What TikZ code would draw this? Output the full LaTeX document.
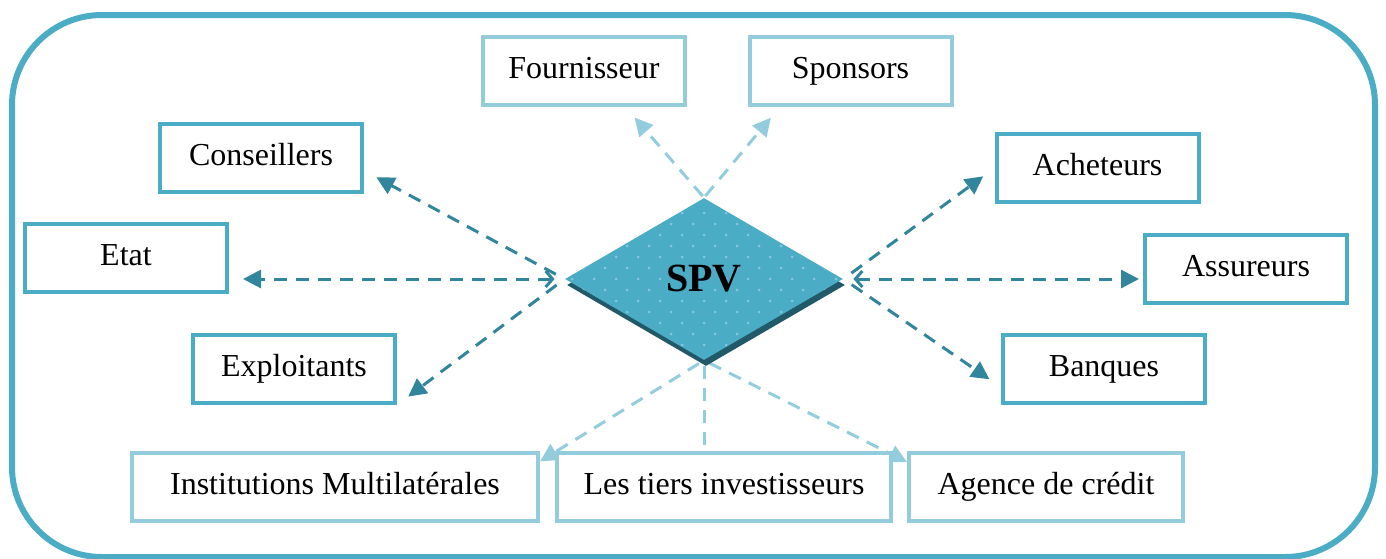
\documentclass[tikz,border=0pt]{standalone}
\usepackage{fontspec}
\setmainfont{Liberation Serif}
\usetikzlibrary{arrows.meta,shapes.geometric,shadows,backgrounds}
\definecolor{boxblue}{HTML}{4BACC6}
\definecolor{boxlight}{HTML}{93CDDD}
\definecolor{arrowdark}{HTML}{31859C}
\definecolor{spvshadow}{HTML}{215968}
\definecolor{spvdot}{HTML}{86C8DA}

\begin{document}
\begin{tikzpicture}[x=0.5pt,y=-0.5pt,
  acteur/.style={draw=boxblue,line width=2pt,fill=white,minimum width=101pt,minimum height=34pt,inner sep=0pt,text height=11pt,text depth=3.5pt,font=\fontsize{16}{19}\selectfont},
  acteurclair/.style={acteur,draw=boxlight},
  lien/.style={draw=arrowdark,line width=1.5pt,dash pattern=on 6.5pt off 4.5pt,-{Triangle[length=9pt,width=9pt]},shorten <=5pt,shorten >=7pt},
  lienclair/.style={lien,draw=boxlight,shorten <=1pt},
  lienduo/.style={lien,{Straight Barb[length=3.5pt,width=8pt]}-{Triangle[length=9pt,width=9pt]}}]
\useasboundingbox (0,0) rectangle (1386,558);
%cadre
\draw[boxblue,line width=3pt,rounded corners=45pt] (12,15) rectangle (1375,557);
%SPV
\node[diamond,aspect=1.7,minimum width=139pt,minimum height=81pt,inner sep=0pt,
  fill=boxblue,drop shadow={shadow xshift=1pt,shadow yshift=-3pt,fill=spvshadow,opacity=1},
  path picture={\foreach \r in {-8,...,8} \foreach \c in {-7,...,7}
    \fill[spvdot] ([shift={({\c*22+mod(\r,2)*11},{\r*11})}]path picture bounding box.center) circle (1.5);},
  font=\fontsize{20}{24}\selectfont\bfseries] (spv) at (704,279) {SPV};
%haut
\node[acteurclair] (four) at (584,71) {Fournisseur};
\node[acteurclair] (spon) at (850.5,71) {Sponsors};
%gauche
\node[acteur] (cons) at (261,158) {Conseillers};
\node[acteur] (etat) at (126,258) {Etat};
\node[acteur] (expl) at (294,369) {Exploitants};
%droite
\node[acteur] (ach) at (1097.5,168) {Acheteurs};
\node[acteur] (assur) at (1246,268.5) {Assureurs};
\node[acteur] (banq) at (1104,369) {Banques};
%bas
\node[acteurclair,minimum width=203pt] (inst) at (335,486.5) {Institutions Multilatérales};
\node[acteurclair,minimum width=167pt] (tiers) at (724,486.5) {Les tiers investisseurs};
\node[acteurclair,minimum width=137pt] (agence) at (1046,486.5) {Agence de crédit};
%liens
\begin{scope}[on background layer]
\draw[lien] (spv.west) -- (cons.-7);
\draw[lienduo] (spv.west) -- (spv.west -| etat.east);
\draw[lien] (spv.west) -- (expl.south east);
\draw[lien] (spv.east) -- (ach.west);
\draw[lienduo,shorten >=2pt] (spv.east) -- (spv.east -| assur.west);
\draw[lien] (spv.east) -- (banq.190);
\draw[lienclair] (spv.north) -- (four.-41);
\draw[lienclair] (spv.north) -- (spon.207);
\draw[lienclair,shorten <=3pt,shorten >=0pt] (spv.south) -- (inst.7);
\draw[lienclair,-,shorten <=3pt,shorten >=3pt] (spv.south) -- (spv.south |- tiers.north);
\draw[lienclair,shorten <=3pt,shorten >=0pt] (spv.south) -- (agence.170);
\end{scope}
\end{tikzpicture}
\end{document}
